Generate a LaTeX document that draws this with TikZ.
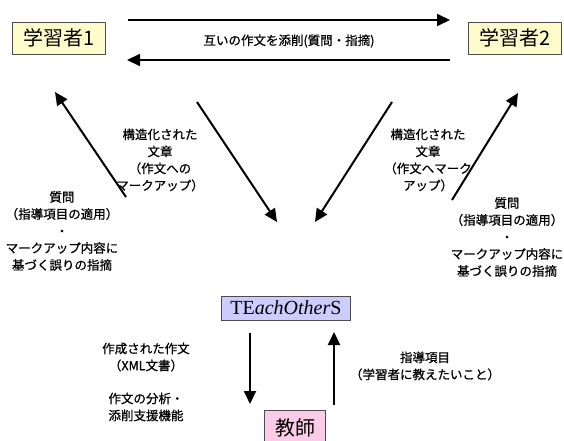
\documentclass[tikz,border=0pt]{standalone}
\usepackage{fontspec}
\setmainfont{Liberation Serif}
\newfontfamily\jpfont{Noto Sans CJK JP}
\newfontfamily\jpnotefont[FakeBold=0.8]{Noto Sans CJK JP}
\usetikzlibrary{arrows.meta}

\begin{document}
\begin{tikzpicture}[x=1pt,y=-1pt,
  learner/.style={draw=black!70,fill=yellow!20,minimum width=93pt,minimum height=32pt,inner sep=0pt,font=\jpfont\fontsize{20}{20}\selectfont},
  note/.style={align=center,inner sep=0pt,font=\jpnotefont\fontsize{12.5}{17}\selectfont},
  flow/.style={line width=2pt,-{Triangle[length=13pt,width=12pt]}}]
\useasboundingbox (0,0) rectangle (564,441);

\node[learner] (l1) at (59,38) {学習者1};
\node[learner] (l2) at (515,38) {学習者2};
\node[draw=black!70,fill=blue!20,minimum width=129pt,minimum height=24pt,inner sep=0pt,font=\fontsize{20}{20}\selectfont] (tos) at (286,308) {TE\textit{achOther}S};
\node[draw=black!70,fill=magenta!20,minimum width=61pt,minimum height=36pt,inner sep=0pt,font=\jpfont\fontsize{20}{20}\selectfont] (teacher) at (295,428) {教師};

% learner <-> learner
\coordinate (a1) at (128,20);
\coordinate (a2) at (450,20);
\coordinate (b1) at (450,60);
\coordinate (b2) at (127,60);
\draw[flow] (a1) -- (a2);
\draw[flow] (b1) -- (b2);
\node[note] (peer) at (289,41) {互いの作文を添削(質問・指摘)};

% learners <-> system
\coordinate (c1) at (126,197);
\coordinate (c2) at (55,92);
\coordinate (d1) at (197,102);
\coordinate (d2) at (277,222);
\coordinate (e1) at (392,102);
\coordinate (e2) at (315,222);
\coordinate (f1) at (452,200);
\coordinate (f2) at (518,93);
\foreach \s/\t in {c1/c2,d1/d2,e1/e2,f1/f2}
  \draw[flow] (\s) -- (\t);

\node[note] (mark1) at (160,160) {構造化された\\文章\\（作文への\\マークアップ）};
\node[note] (mark2) at (428,160) {構造化された\\文章\\（作文へマーク\\アップ）};
\node[note] (ask1) at (62,231) {質問\\（指導項目の適用）\\・\\マークアップ内容に\\基づく誤りの指摘};
\node[note] (ask2) at (507,237) {質問\\（指導項目の適用）\\・\\マークアップ内容に\\基づく誤りの指摘};

% system <-> teacher
\coordinate (g1) at (250,333);
\coordinate (g2) at (250,404);
\coordinate (h1) at (334,405);
\coordinate (h2) at (334,332);
\draw[flow] (g1) -- (g2);
\draw[flow] (h1) -- (h2);
\node[note] (essay) at (146,382) {作成された作文\\（XML文書）\\[16pt]作文の分析・\\添削支援機能};
\node[note] (items) at (425,366) {指導項目\\（学習者に教えたいこと）};
\end{tikzpicture}
\end{document}
